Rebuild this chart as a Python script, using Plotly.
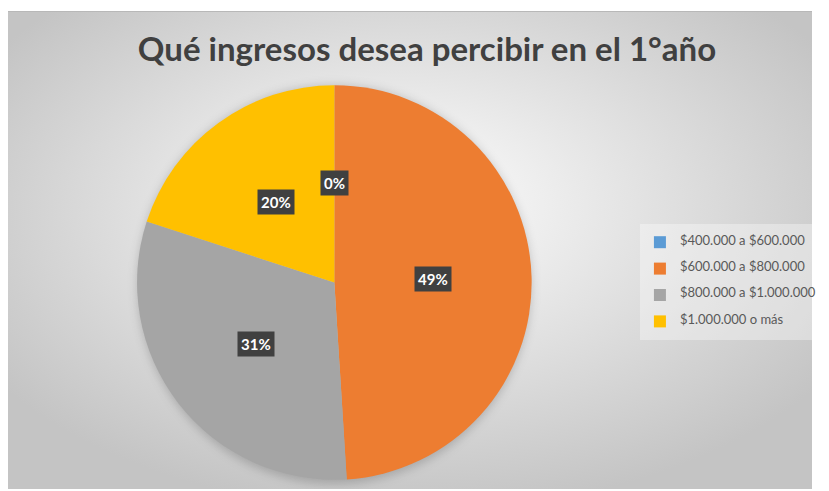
import math
import base64
import plotly.graph_objects as go

title_text = "Qué ingresos desea percibir en el 1°año"
labels = ["$400.000 a $600.000", "$600.000 a $800.000", "$800.000 a $1.000.000", "$1.000.000 o más"]
values = [0, 49, 31, 20]
colors = ["#5B9BD5", "#ED7D31", "#A5A5A5", "#FFC000"]

# the page body has an 8px margin: figure fills the rest of the window
OFF = 8
W, H = 829 - 2 * OFF, 491 - OFF


def px_x(sx):
    return (sx - OFF) / W


def px_y(sy):
    return 1 - (sy - OFF) / H


# pie geometry in screen pixels (layout, not data)
cx_s, cy_s, r_s = 338, 282.5, 199.5
dom_x = [px_x(cx_s - r_s), px_x(cx_s + r_s)]
dom_y = [px_y(cy_s + r_s), px_y(cy_s - r_s)]

img_x0, img_y0 = OFF, 11
img_w, img_h = OFF + W - img_x0, 489 - img_y0
svg = f'''<svg xmlns="http://www.w3.org/2000/svg" width="{img_w}" height="{img_h}" viewBox="0 0 {img_w} {img_h}" preserveAspectRatio="none">
<defs>
<radialGradient id="g" cx="50%" cy="43%" r="62%" fx="48%" fy="40%">
<stop offset="0%" stop-color="#ffffff"/>
<stop offset="100%" stop-color="#c4c4c4"/>
</radialGradient>
<filter id="b" x="-20%" y="-20%" width="140%" height="140%"><feGaussianBlur stdDeviation="5"/></filter>
</defs>
<rect x="0" y="0" width="{img_w}" height="{img_h}" fill="url(#g)"/>
<rect x="0" y="0" width="{img_w}" height="1" fill="#b8b8b8"/>
<circle cx="{cx_s - img_x0}" cy="{cy_s - img_y0 + 2}" r="{r_s}" fill="#000" fill-opacity="0.18" filter="url(#b)"/>
</svg>'''
bg_uri = "data:image/svg+xml;base64," + base64.b64encode(svg.encode()).decode()

# legend entries: padded with thin blank lines so the rows are spaced like the original
legend_labels = [f' <br><span style="font-size:13px">{lab}</span><br> ' for lab in labels]

fig = go.Figure()
fig.add_trace(go.Pie(
    labels=legend_labels,
    values=values,
    marker=dict(colors=colors, line=dict(width=0)),
    sort=False,
    direction="clockwise",
    rotation=0,
    textinfo="none",
    customdata=labels,
    hovertemplate="%{customdata}: %{percent}<extra></extra>",
    domain=dict(x=dom_x, y=dom_y),
    showlegend=True,
))

# data labels (positions derived from the values)
total = sum(values)
annotations = []
cum = 0
for v in values:
    mid = (cum + v / 2) / total * 2 * math.pi
    cum += v
    rr = 0.5 * r_s
    sx = cx_s + rr * math.sin(mid)
    sy = cy_s - rr * math.cos(mid)
    annotations.append(dict(
        x=px_x(sx), y=px_y(sy), xref="paper", yref="paper",
        text=f"<b>{round(v / total * 100)}%</b>", showarrow=False,
        font=dict(family="Lato", size=15, color="#ffffff"),
        bgcolor="#404040", borderpad=3,
        xanchor="center", yanchor="middle",
    ))

fig.update_layout(
    width=W, height=H,
    margin=dict(l=0, r=0, t=0, b=0),
    paper_bgcolor="#ffffff",
    title=dict(
        text=title_text, x=px_x(427), xanchor="center", y=px_y(49), yanchor="middle",
        font=dict(family="Lato", size=33, color="#404040", weight="bold"),
    ),
    legend=dict(
        x=px_x(647), xanchor="left", y=px_y(282), yanchor="middle",
        bgcolor="rgba(255,255,255,0.35)",
        font=dict(family="Lato", size=6, color="#595959"),
        itemwidth=30,
    ),
    images=[dict(
        source=bg_uri, xref="paper", yref="paper",
        x=px_x(img_x0), y=px_y(img_y0), sizex=img_w / W, sizey=img_h / H,
        xanchor="left", yanchor="top", sizing="stretch", layer="below",
    )],
    annotations=annotations,
)

fig.write_html("out.html")
